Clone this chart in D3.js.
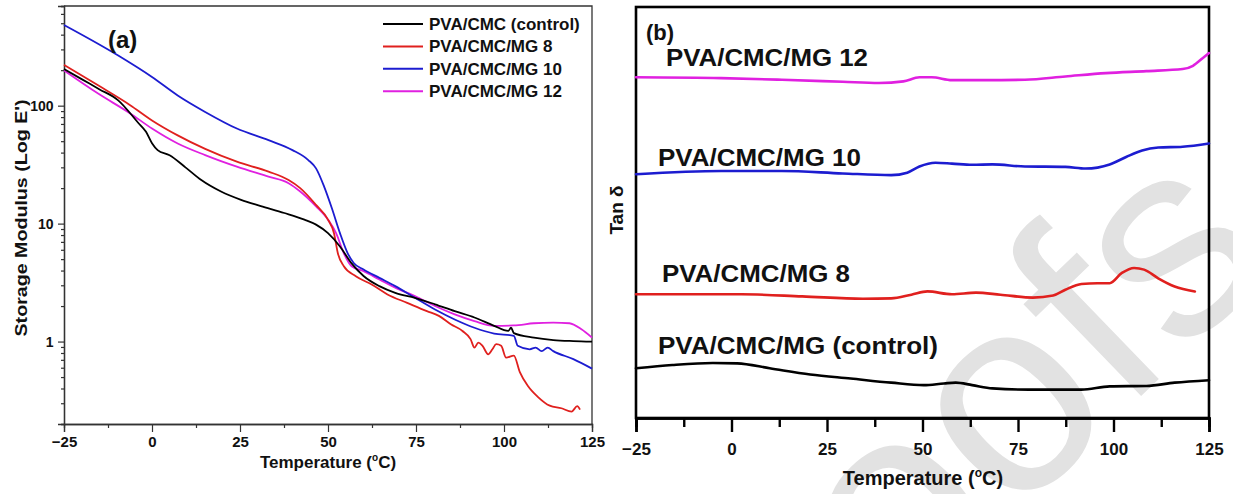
<!DOCTYPE html>
<html>
<head>
<meta charset="utf-8">
<script src="https://cdn.jsdelivr.net/npm/d3@7"></script>
<style>
  html, body { margin: 0; padding: 0; background: #fff; }
  svg { display: block; }
  text { font-family: "Liberation Sans", Arial, sans-serif; }
</style>
</head>
<body>
<svg id="chart" width="1233" height="494"></svg>
<script>
// ---------- (a) storage modulus vs temperature ----------
const seriesNamesA = ["PVA/CMC (control)", "PVA/CMC/MG 8", "PVA/CMC/MG 10", "PVA/CMC/MG 12"];

const tempA_control = [-25,-20,-15,-9.6,-4,-1.7,0,1.6,5,9.5,14,19.6,25.3,30.9,37.6,43.3,46.6,50,53.4,56.7,60.1,64.6,69.1,74.7,80.4,86,91.6,97.2,101.2,102,102.8,108.5,114,119.7,125];
const modA_control = [205,168,138,111,72,60,48,42,38,30,23.4,18.7,15.9,14.1,12.3,10.8,9.8,8.3,6.4,4.6,3.6,2.95,2.59,2.35,2.07,1.81,1.6,1.36,1.23,1.31,1.18,1.08,1.03,1.01,1.0];

const tempA_mg8 = [-25,-15.2,-6.2,0,7.3,15.1,24.1,33.1,38.8,42.1,46.6,50,51.7,52.8,54.5,57.9,62.4,66.9,72.5,78.1,81.5,84.9,88.2,90.5,91.6,92.7,93.9,95.5,96.7,97.8,99.2,100.6,102.8,104.5,106.8,109.6,113,116.3,119.2,120.8,121.6];
const modA_mg8 = [222,148,101,75,56,43,33.5,27.6,23.4,20,14.4,10.8,8.3,5.6,4.35,3.58,3.05,2.51,2.13,1.81,1.65,1.40,1.23,1.05,0.89,0.98,0.92,0.78,0.86,0.95,0.92,0.73,0.76,0.55,0.42,0.34,0.286,0.272,0.255,0.283,0.265];

const tempA_mg10 = [-25,-9.6,0,7.3,15.1,24.1,33.1,39.9,44.4,46.6,48.9,51.1,53.4,55.6,57.3,60.1,64.6,69.1,74.7,80.4,86,91.6,97.2,102.8,103.9,107.3,109,110.7,112.4,114,119.7,125];
const modA_mg10 = [483,266,175,122,88.5,64,51,42,34.6,29.4,20.6,13.5,8.3,5.6,4.64,4.08,3.47,2.95,2.35,1.87,1.54,1.31,1.17,1.12,0.92,0.86,0.89,0.83,0.89,0.83,0.71,0.59];

const tempA_mg12 = [-25,-15.2,-6.2,0,7.3,15.1,24.1,33.1,38.8,42.1,46.6,50,52.3,54.5,56.7,60.1,64.6,69.1,74.7,80.4,86,91.6,97.2,102.8,108.5,114,118.6,122,125];
const modA_mg12 = [199,126,86,64,47.8,38.1,30.4,25,22,18.7,14,10.8,8.3,5.6,4.35,3.95,3.36,2.86,2.43,2.0,1.70,1.49,1.36,1.37,1.43,1.45,1.43,1.27,1.08];

const yTicksA = [1, 10, 100];
const yTickLabelsA = ["1", "10", "100"];
const yMinorTicksA = [0.2,0.3,0.4,0.5,0.6,0.7,0.8,0.9,2,3,4,5,6,7,8,9,20,30,40,50,60,70,80,90,200,300,400,500,600,700];

// ---------- (b) tan delta vs temperature (stacked, arbitrary units) ----------
const seriesNamesB = ["PVA/CMC/MG (control)", "PVA/CMC/MG 8", "PVA/CMC/MG 10", "PVA/CMC/MG 12"];

const tempB_control = [-25,-15.5,-4.9,1.5,10,20.6,31.2,41.8,50.3,55.6,58.7,63,68.3,77.8,91.6,99,108.6,116,125];
const tanB_control = [0.121,0.129,0.134,0.133,0.121,0.106,0.096,0.086,0.080,0.084,0.086,0.080,0.072,0.069,0.069,0.077,0.078,0.086,0.092];

const tempB_mg8 = [-25,2.6,18.5,34.4,41.8,47.1,51.3,57.7,64,70.4,78.9,84.2,87.4,91.6,95.8,99,102.2,105.4,108,111.7,116,121.3];
const tanB_mg8 = [0.301,0.301,0.296,0.290,0.291,0.300,0.308,0.301,0.305,0.300,0.293,0.298,0.312,0.326,0.328,0.328,0.353,0.365,0.361,0.340,0.320,0.308];

const tempB_mg10 = [-25,-2.7,13.2,29.1,41.8,46,49.2,53.4,57.7,63,68.3,76.8,87.4,92.7,99,103.3,107.5,111.7,118.1,125];
const tanB_mg10 = [0.593,0.601,0.601,0.595,0.591,0.597,0.612,0.621,0.619,0.616,0.617,0.612,0.611,0.607,0.617,0.635,0.651,0.658,0.660,0.668];

const tempB_mg12 = [-25,-2.7,13.2,29.1,38.6,45,49.2,52.4,57.7,66.2,76.8,87.4,98,108.6,118.1,120.8,123.4,125];
const tanB_mg12 = [0.829,0.827,0.823,0.818,0.815,0.819,0.829,0.829,0.822,0.822,0.823,0.831,0.839,0.844,0.849,0.857,0.876,0.888];

const xTicks = [-25, 0, 25, 50, 75, 100, 125];
const xMinorTicks = [-12.5, 12.5, 37.5, 62.5, 87.5, 112.5];

const colors = ["#000000", "#e0201e", "#1c1cd0", "#e020e0"];

const svg = d3.select("#chart");
const FONT = '"Liberation Sans", Arial, sans-serif';

// light diagonal watermark behind everything
svg.append("text")
  .attr("transform", "translate(1280,262) rotate(-44)")
  .attr("text-anchor", "end")
  .attr("font-size", 280)
  .attr("fill", "#e2e2e2")
  .text("Journal Pre-proofs");

// ================= panel (a) =================
const xA = d3.scaleLinear().domain([-25, 125]).range([64, 592]);
const yA = d3.scaleLog().domain([0.2, 700]).range([424, 6]);

const gA = svg.append("g");

// frame top/right
gA.append("path")
  .attr("d", `M${xA(-25)},${yA(700)}H${xA(125)}V${yA(0.2)}`)
  .attr("fill", "none").attr("stroke", "#333").attr("stroke-width", 1.3);

const axA_x = gA.append("g").attr("transform", `translate(0,${yA(0.2)})`)
  .call(d3.axisBottom(xA).tickValues(xTicks).tickSize(8).tickFormat(d3.format("d")));
const axA_xm = gA.append("g").attr("transform", `translate(0,${yA(0.2)})`)
  .call(d3.axisBottom(xA).tickValues(xMinorTicks).tickSize(4).tickFormat(""));
const axA_y = gA.append("g").attr("transform", `translate(${xA(-25)},0)`)
  .call(d3.axisLeft(yA).tickValues(yTicksA).tickSize(6).tickFormat((d, i) => yTickLabelsA[i]));
const axA_ym = gA.append("g").attr("transform", `translate(${xA(-25)},0)`)
  .call(d3.axisLeft(yA).tickValues(yMinorTicksA).tickSize(3).tickFormat(""));

[axA_x, axA_xm, axA_y, axA_ym].forEach(ax => {
  ax.select(".domain").attr("stroke", "#333").attr("stroke-width", 1.3);
  ax.selectAll(".tick line").attr("stroke", "#333").attr("stroke-width", 1.2);
});
axA_x.selectAll(".tick text")
  .attr("font-family", FONT).attr("font-weight", "bold").attr("font-size", 15)
  .attr("fill", "#111").attr("dy", "0.8em");
axA_y.selectAll(".tick text")
  .attr("font-family", FONT).attr("font-weight", "bold").attr("font-size", 14)
  .attr("fill", "#111").attr("dx", "-0.1em");

const lineA = (xs, ys) => d3.line()
  .x((d, i) => xA(xs[i])).y((d, i) => yA(ys[i]))
  .curve(d3.curveMonotoneX)(xs);

const seriesA = [
  [tempA_control, modA_control],
  [tempA_mg8, modA_mg8],
  [tempA_mg10, modA_mg10],
  [tempA_mg12, modA_mg12]
];
// draw so that black sits on top
[3, 2, 1, 0].forEach(k => {
  gA.append("path")
    .attr("d", lineA(seriesA[k][0], seriesA[k][1]))
    .attr("fill", "none").attr("stroke", colors[k])
    .attr("stroke-width", 1.8).attr("stroke-linejoin", "round");
});

// legend
const legA = gA.append("g");
seriesNamesA.forEach((name, i) => {
  const y = 24 + i * 22.4;
  legA.append("line").attr("x1", 383).attr("x2", 423).attr("y1", y).attr("y2", y)
    .attr("stroke", colors[i]).attr("stroke-width", 2);
  legA.append("text").attr("x", 429).attr("y", y + 6)
    .attr("font-weight", "bold").attr("font-size", 17).attr("fill", "#111")
    .text(name);
});

gA.append("text").attr("x", 108).attr("y", 48)
  .attr("font-weight", "bold").attr("font-size", 24).attr("fill", "#111").text("(a)");

// axis titles (a)
const titleAx = gA.append("text").attr("x", 328).attr("y", 468)
  .attr("text-anchor", "middle").attr("font-weight", "bold").attr("font-size", 17).attr("fill", "#111");
titleAx.append("tspan").text("Temperature (");
titleAx.append("tspan").attr("font-size", 10).attr("dy", -7).text("o");
titleAx.append("tspan").attr("dy", 7).text("C)");

gA.append("text")
  .attr("transform", "translate(27,218) rotate(-90)")
  .attr("text-anchor", "middle").attr("font-weight", "bold").attr("font-size", 17)
  .attr("fill", "#111")
  .attr("textLength", 237).attr("lengthAdjust", "spacingAndGlyphs")
  .text("Storage Modulus (Log E')");

// ================= panel (b) =================
const xB = d3.scaleLinear().domain([-25, 125]).range([636, 1209]);
const yB = d3.scaleLinear().domain([0, 1]).range([418, 7]);

const gB = svg.append("g");

gB.append("rect")
  .attr("x", xB(-25)).attr("y", yB(1))
  .attr("width", xB(125) - xB(-25)).attr("height", yB(0) - yB(1))
  .attr("fill", "none").attr("stroke", "#000").attr("stroke-width", 2.6);

const axB_x = gB.append("g").attr("transform", `translate(0,${yB(0)})`)
  .call(d3.axisBottom(xB).tickValues(xTicks).tickSize(14).tickFormat(d3.format("d")));
const axB_xm = gB.append("g").attr("transform", `translate(0,${yB(0)})`)
  .call(d3.axisBottom(xB).tickValues(xMinorTicks).tickSize(9).tickFormat(""));
[axB_x, axB_xm].forEach(ax => {
  ax.select(".domain").attr("stroke", "#000").attr("stroke-width", 2.6);
  ax.selectAll(".tick line").attr("stroke", "#000").attr("stroke-width", 2.4);
});
axB_x.selectAll(".tick text")
  .attr("font-family", FONT).attr("font-weight", "bold").attr("font-size", 17)
  .attr("fill", "#111").attr("dy", "1.2em");

const lineB = (xs, ys) => d3.line()
  .x((d, i) => xB(xs[i])).y((d, i) => yB(ys[i]))
  .curve(d3.curveMonotoneX)(xs);

const seriesB = [
  [tempB_control, tanB_control],
  [tempB_mg8, tanB_mg8],
  [tempB_mg10, tanB_mg10],
  [tempB_mg12, tanB_mg12]
];
seriesB.forEach((s, k) => {
  gB.append("path")
    .attr("d", lineB(s[0], s[1]))
    .attr("fill", "none").attr("stroke", colors[k])
    .attr("stroke-width", 2.6).attr("stroke-linejoin", "round").attr("stroke-linecap", "round");
});

// curve labels
const labelPosB = [
  { x: 658, y: 354, w: 280 },
  { x: 662, y: 282, w: 188 },
  { x: 658, y: 166, w: 203 },
  { x: 666, y: 66, w: 202 }
];
seriesNamesB.forEach((name, i) => {
  gB.append("text").attr("x", labelPosB[i].x).attr("y", labelPosB[i].y)
    .attr("font-weight", "bold").attr("font-size", 23).attr("fill", "#111")
    .attr("textLength", labelPosB[i].w).attr("lengthAdjust", "spacingAndGlyphs")
    .text(name);
});

gB.append("text").attr("x", 646).attr("y", 40)
  .attr("font-weight", "bold").attr("font-size", 22).attr("fill", "#111").text("(b)");

const titleBx = gB.append("text").attr("x", 923).attr("y", 485)
  .attr("text-anchor", "middle").attr("font-weight", "bold").attr("font-size", 20).attr("fill", "#111");
titleBx.append("tspan").text("Temperature (");
titleBx.append("tspan").attr("font-size", 12).attr("dy", -8).text("o");
titleBx.append("tspan").attr("dy", 8).text("C)");

gB.append("text")
  .attr("transform", "translate(623,210) rotate(-90)")
  .attr("text-anchor", "middle").attr("font-weight", "bold").attr("font-size", 19)
  .attr("fill", "#111").text("Tan δ");
</script>
</body>
</html>
